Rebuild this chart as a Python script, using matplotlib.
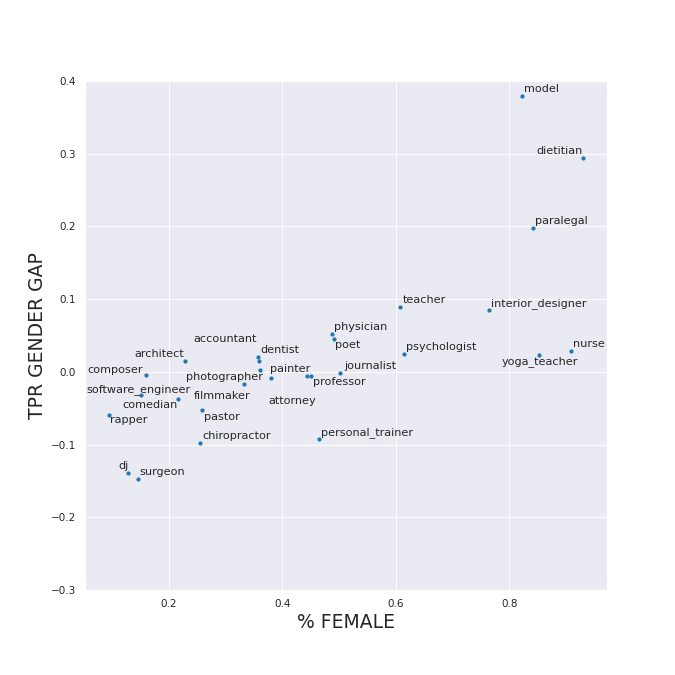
#!/usr/bin/env python3
"""Scatter of TPR gender gap against share of female workers per occupation."""

import matplotlib

matplotlib.use("Agg")
import matplotlib.pyplot as plt
import seaborn as sns

occupations = [
    "model", "dietitian", "paralegal", "teacher", "interior_designer",
    "nurse", "yoga_teacher", "psychologist", "physician", "poet",
    "journalist", "professor", "attorney", "painter", "dentist",
    "accountant", "photographer", "filmmaker", "architect", "composer",
    "software_engineer", "comedian", "rapper", "pastor", "chiropractor",
    "dj", "surgeon", "personal_trainer",
]
pct_female = [
    0.823, 0.930, 0.841, 0.608, 0.764,
    0.908, 0.853, 0.614, 0.488, 0.491,
    0.501, 0.450, 0.443, 0.380, 0.357,
    0.359, 0.360, 0.332, 0.228, 0.159,
    0.151, 0.216, 0.094, 0.259, 0.255,
    0.128, 0.145, 0.465,
]
tpr_gap = [
    0.380, 0.294, 0.198, 0.0895, 0.085,
    0.028, 0.0235, 0.025, 0.052, 0.045,
    -0.001, -0.006, -0.006, -0.009, 0.021,
    0.015, 0.002, -0.017, 0.0143, -0.005,
    -0.032, -0.038, -0.059, -0.053, -0.098,
    -0.139, -0.148, -0.093,
]

# label placement (pixels from the point, baseline-left), like adjustText left them
label_offsets = {
    "dietitian": (-47, 4), "yoga_teacher": (-38, -9), "poet": (1, -9),
    "journalist": (5, 4), "professor": (2, -9), "attorney": (-38, -28),
    "painter": (-1, 6), "accountant": (-66, 19), "photographer": (-74, -10),
    "filmmaker": (-50, -15), "architect": (-50, 4), "composer": (-58, 2),
    "software_engineer": (-55, 3), "comedian": (-56, -9), "rapper": (1, -8),
    "pastor": (2, -10), "dj": (-10, 4),
}
default_offset = (2, 4)

sns.set()

fig = plt.figure(figsize=(10, 10), dpi=67.5)
ax = fig.add_axes([0.126, 0.126, 0.773, 0.754])
ax.scatter(pct_female, tpr_gap, s=20, color="#1f77b4", linewidths=0)
for name, x, y in zip(occupations, pct_female, tpr_gap):
    ax.annotate(name, (x, y), xytext=label_offsets.get(name, default_offset),
                textcoords="offset pixels", fontsize=12, color=".15")

ax.set_ylim(-0.3, 0.4)
ax.set_xticks([0.2, 0.4, 0.6, 0.8])
ax.set_xlabel("% FEMALE", fontsize=20)
ax.set_ylabel("TPR GENDER GAP", fontsize=20)

fig.savefig("out.png", dpi=67.5)
